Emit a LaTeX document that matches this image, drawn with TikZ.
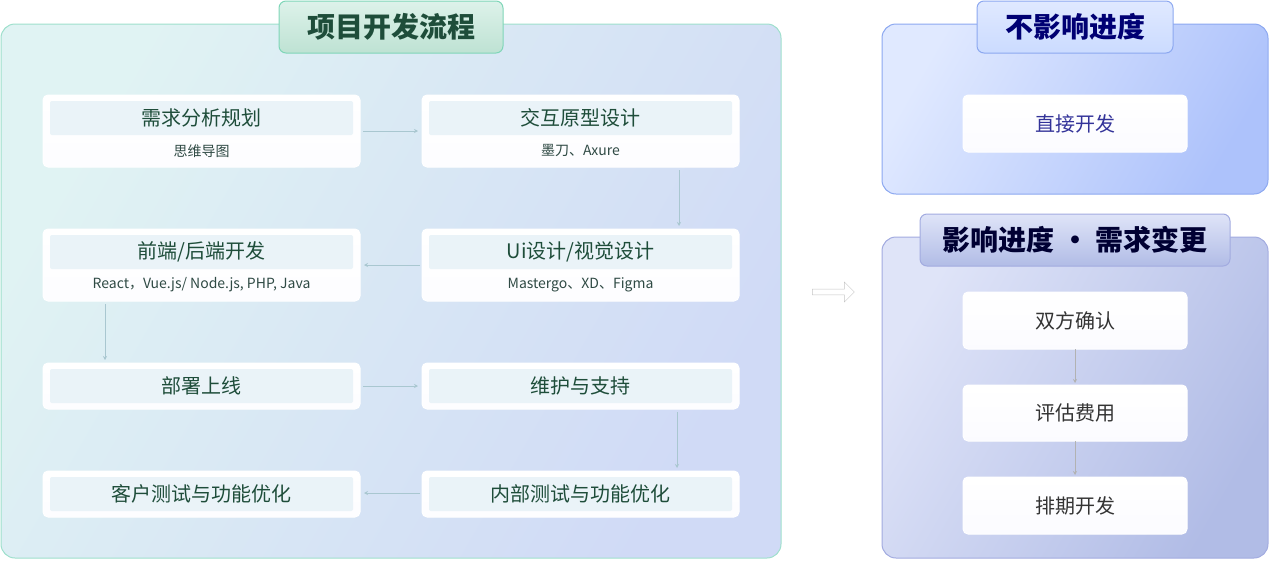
\documentclass[tikz,border=0pt]{standalone}
\usepackage{fontspec}
\setmainfont{Noto Sans CJK SC}
\usetikzlibrary{arrows.meta,shapes.arrows}
\definecolor{gtxt}{HTML}{1E4D3A}
\definecolor{sub}{HTML}{2F4A44}
\definecolor{arr}{HTML}{A9C7D0}
\definecolor{lpa}{HTML}{E0F3F3}
\definecolor{lpb}{HTML}{D0DAF6}
\definecolor{lpbd}{HTML}{9EE0CC}
\definecolor{tga}{HTML}{DDF2EA}
\definecolor{tgb}{HTML}{BEE2D3}
\definecolor{tgbd}{HTML}{7FD6B8}
\definecolor{rta}{HTML}{E0E9FF}
\definecolor{rtb}{HTML}{ADC2FB}
\definecolor{rtbd}{HTML}{8CA8F0}
\definecolor{rtt}{HTML}{CBDBFF}
\definecolor{rbta}{HTML}{DFE4F8}
\definecolor{rbtb}{HTML}{B1BCE6}
\definecolor{rbbd}{HTML}{A2ABE0}
\definecolor{strp}{HTML}{EAF3F8}
\begin{document}
\begin{tikzpicture}[x=1pt,y=-1pt,
 card/.style={draw=white,line width=1pt,rounded corners=5pt,top color=white,bottom color=white!85!blue!6},
 strip/.style={fill=strp,draw=none,rounded corners=2pt},
 head/.style={font=\fontsize{20}{23}\selectfont,text=gtxt},
 subt/.style={font=\fontsize{14}{16}\selectfont,text=sub},
 link/.style={draw=arr,line width=0.8pt,-{Stealth[length=4pt,width=4pt]}},
 rnode/.style={draw=white,line width=1pt,rounded corners=5pt,top color=white,bottom color=white!85!blue!10},
 rtext/.style={font=\fontsize{20}{23}\selectfont}]
\useasboundingbox (0,0) rectangle (1269,560);
% left panel
\draw[draw=lpbd,line width=1pt,rounded corners=14pt,left color=lpa,right color=lpb,shading angle=60] (1,24) rectangle (781,558);
\draw[draw=tgbd,line width=1pt,rounded corners=7pt,top color=tga,bottom color=tgb] (279,1) rectangle (503,53);
\node[font=\fontsize{28}{31}\selectfont\bfseries,text=gtxt] (t1) at (391,27) {项目开发流程};
% cards
\foreach \x/\ya/\yb in {43/95/167,422/95/167,43/229/301,422/229/301,43/363/409,422/363/409,43/471/517,422/471/517}{
 \path[card] (\x,\ya) rectangle ++(317,\yb-\ya);
 \path[strip] (\x+7,\ya+6) rectangle ++(303,34);
}
\node[head] (n1) at (201.5,118) {需求分析规划};
\node[subt] (s1) at (201.5,151) {思维导图};
\node[head] (n2) at (580.5,118) {交互原型设计};
\node[subt] (s2) at (580.5,151) {墨刀、Axure};
\node[head] (n3) at (201.5,252) {前端/后端开发};
\node[subt] (s3) at (201.5,285) {React，Vue.js/ Node.js, PHP, Java};
\node[head] (n4) at (580.5,252) {Ui设计/视觉设计};
\node[subt] (s4) at (580.5,285) {Mastergo、XD、Figma};
\node[head] (n5) at (201.5,386) {部署上线};
\node[head] (n6) at (580.5,386) {维护与支持};
\node[head] (n7) at (201.5,494) {客户测试与功能优化};
\node[head] (n8) at (580.5,494) {内部测试与功能优化};
\coordinate (p1) at (363,131); \coordinate (q1) at (418,131);
\coordinate (p2) at (679,170); \coordinate (q2) at (679,226);
\coordinate (p3) at (420,265); \coordinate (q3) at (364,265);
\coordinate (p4) at (105,304); \coordinate (q4) at (105,360);
\coordinate (p5) at (363,386); \coordinate (q5) at (418,386);
\coordinate (p6) at (677,412); \coordinate (q6) at (677,468);
\coordinate (p7) at (420,493); \coordinate (q7) at (364,493);
\foreach \i in {1,...,7}{\draw[link] (p\i) -- (q\i);}
% hollow arrow
\node[single arrow,draw=gray!45,fill=white,minimum width=20pt,single arrow head extend=3pt,minimum height=42pt,inner sep=1pt] (ha) at (832,292) {};
% right top panel
\draw[draw=rtbd,line width=1pt,rounded corners=14pt,left color=rta,right color=rtb,shading angle=60] (882,24) rectangle (1268,194);
\draw[draw=rtbd,line width=1pt,rounded corners=7pt,top color=rta,bottom color=rtt] (977,1) rectangle (1173,53);
\node[font=\fontsize{28}{31}\selectfont\bfseries,text=blue!45!black] (t2) at (1075,27) {不影响进度};
\path[rnode] (963,95) rectangle (1187,152);
\node[rtext,text=blue!50!black!80] (r0) at (1075,123.5) {直接开发};
% right bottom
\draw[draw=rbbd,line width=1pt,rounded corners=14pt,left color=rbta,right color=rbtb,shading angle=60] (882,237) rectangle (1268,558);
\draw[draw=rbbd,line width=1pt,rounded corners=7pt,top color=rbta,bottom color=rbtb] (920,214) rectangle (1230,266);
\node[font=\fontsize{28}{31}\selectfont\bfseries,text=black!80!blue] (t3) at (1075,240) {影响进度 · 需求变更};
\path[rnode] (963,292) rectangle (1187,349);
\path[rnode] (963,385) rectangle (1187,441);
\path[rnode] (963,477) rectangle (1187,534);
\node[rtext,text=black!80] (r1) at (1075,320.5) {双方确认};
\node[rtext,text=black!80] (r2) at (1075,413) {评估费用};
\node[rtext,text=black!80] (r3) at (1075,505.5) {排期开发};
\coordinate (u1) at (1075,349); \coordinate (v1) at (1075,383);
\coordinate (u2) at (1075,441); \coordinate (v2) at (1075,475);
\draw[draw=gray!60,line width=0.8pt,-{Stealth[length=4pt,width=4pt]}] (u1)--(v1);
\draw[draw=gray!60,line width=0.8pt,-{Stealth[length=4pt,width=4pt]}] (u2)--(v2);
\end{tikzpicture}
\end{document}
